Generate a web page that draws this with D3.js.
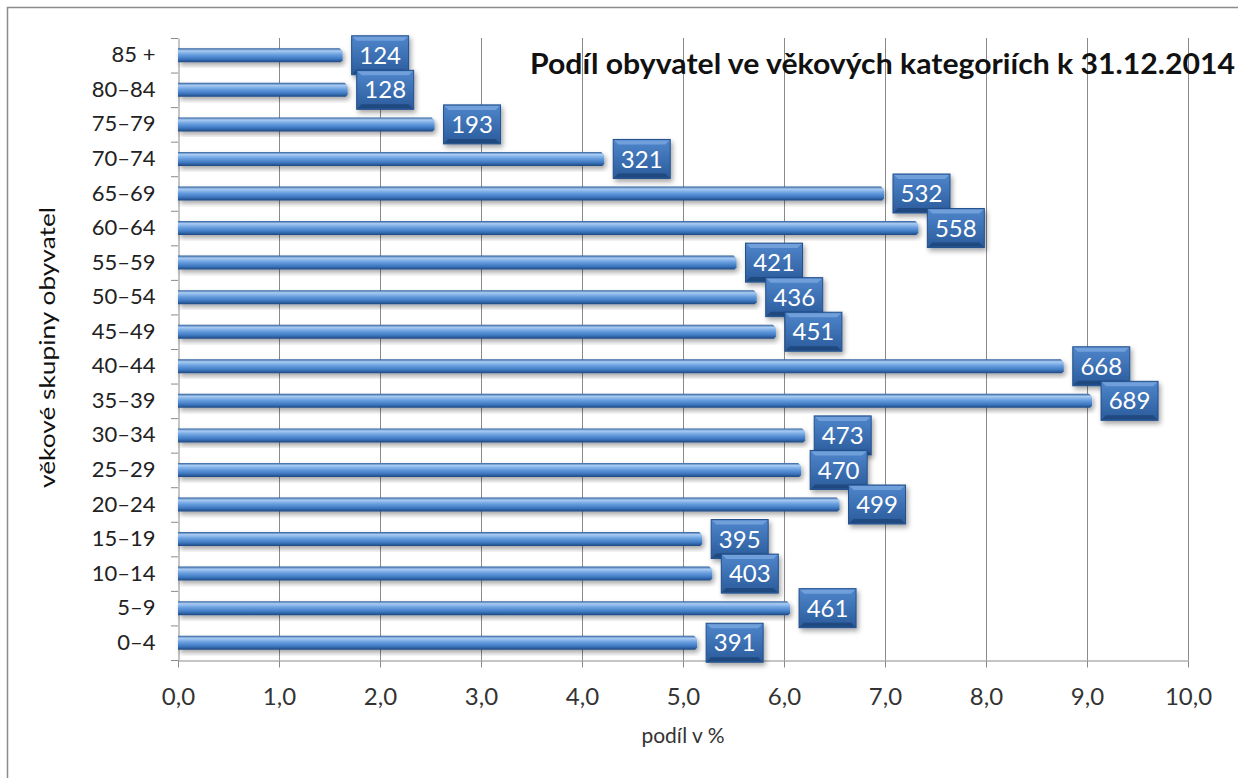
<!DOCTYPE html>
<html>
<head>
<meta charset="utf-8">
<script src="https://cdn.jsdelivr.net/npm/d3@7"></script>
<style>
  body { margin: 0; background: #fff; }
  text { font-family: Lato, "Open Sans", sans-serif; }
</style>
</head>
<body>
<div id="chart"></div>
<script>
// age groups, top to bottom as in the picture
var categories = ["85 +", "80–84", "75–79", "70–74", "65–69", "60–64", "55–59", "50–54",
    "45–49", "40–44", "35–39", "30–34", "25–29", "20–24", "15–19", "10–14", "5–9", "0–4"];
// number of inhabitants (box labels)
var counts = [124, 128, 193, 321, 532, 558, 421, 436, 451, 668, 689, 473, 470, 499, 395, 403, 461, 391];
// share in % (bar length)
var shares = [1.63, 1.68, 2.54, 4.22, 6.99, 7.33, 5.53, 5.73, 5.92, 8.77, 9.05, 6.21, 6.17, 6.55, 5.19, 5.29, 6.06, 5.14];
var xTicks = [0, 1, 2, 3, 4, 5, 6, 7, 8, 9, 10];

var W = 1238, H = 778;
var margin = { top: 38, left: 178, right: 50, bottom: 118 };

var czech = d3.formatLocale({ decimal: ",", thousands: " ", grouping: [3], currency: ["", " Kč"] });
var fmt = czech.format(".1f");

var svg = d3.select("#chart").append("svg")
    .attr("width", W)
    .attr("height", H);

var defs = svg.append("defs");
var bg = defs.append("linearGradient").attr("id", "barGrad")
    .attr("x1", 0).attr("y1", 0).attr("x2", 0).attr("y2", 1);
bg.append("stop").attr("offset", "0%").attr("stop-color", "#2d5e9c");
bg.append("stop").attr("offset", "18%").attr("stop-color", "#a9cbf2");
bg.append("stop").attr("offset", "45%").attr("stop-color", "#6aa0e0");
bg.append("stop").attr("offset", "75%").attr("stop-color", "#3f79c2");
bg.append("stop").attr("offset", "100%").attr("stop-color", "#1d4880");

var lg = defs.append("linearGradient").attr("id", "boxGrad")
    .attr("x1", 0).attr("y1", 0).attr("x2", 0).attr("y2", 1);
lg.append("stop").attr("offset", "0%").attr("stop-color", "#4f86cc");
lg.append("stop").attr("offset", "100%").attr("stop-color", "#2a5b9b");

var sh = defs.append("filter").attr("id", "shadow")
    .attr("x", "-20%").attr("y", "-20%").attr("width", "150%").attr("height", "160%");
sh.append("feDropShadow").attr("dx", 2).attr("dy", 3).attr("stdDeviation", 2.5)
    .attr("flood-color", "#000").attr("flood-opacity", 0.35);

// outer chart border
svg.append("rect")
    .attr("x", 7.5).attr("y", 7.5)
    .attr("width", W + 20).attr("height", H + 20)
    .attr("fill", "none").attr("stroke", "#8c8c8c").attr("stroke-width", 1.5);

var x = d3.scaleLinear().domain([0, 10]).range([margin.left, W - margin.right]);
var y = d3.scaleBand().domain(categories).range([margin.top, H - margin.bottom]);

// vertical gridlines
svg.append("g").selectAll("line")
    .data(xTicks.slice(1))
    .enter().append("line")
    .attr("x1", function (d) { return x(d) + 0.5; })
    .attr("x2", function (d) { return x(d) + 0.5; })
    .attr("y1", y.range()[0])
    .attr("y2", y.range()[1])
    .attr("stroke", "#8a8a8a");

// x axis
var xAxis = svg.append("g")
    .attr("transform", "translate(0," + (y.range()[1] + 0.5) + ")")
    .call(d3.axisBottom(x).tickValues(xTicks).tickFormat(fmt).tickSizeInner(7).tickSizeOuter(0).tickPadding(20));
xAxis.select(".domain").attr("stroke", "#8a8a8a");
xAxis.selectAll(".tick line").attr("stroke", "#8a8a8a");
xAxis.selectAll("text").attr("font-size", 24).attr("fill", "#333")
    .style("font-family", "Lato, sans-serif");

// y axis
var yAxis = svg.append("g")
    .attr("transform", "translate(" + (margin.left + 0.5) + ",0)")
    .call(d3.axisLeft(y).tickSize(0).tickPadding(23));
yAxis.select(".domain").attr("stroke", "#8a8a8a");
yAxis.selectAll("text").attr("font-size", 22).attr("fill", "#222")
    .style("font-family", "Lato, sans-serif");

// y tick marks on band boundaries
svg.append("g").selectAll("line")
    .data(d3.range(categories.length + 1))
    .enter().append("line")
    .attr("x1", margin.left - 7)
    .attr("x2", margin.left)
    .attr("y1", function (i) { return y.range()[0] + i * y.step() + 0.5; })
    .attr("y2", function (i) { return y.range()[0] + i * y.step() + 0.5; })
    .attr("stroke", "#8a8a8a");

var barH = 14;
var bars = svg.append("g").selectAll("g")
    .data(categories)
    .enter().append("g")
    .attr("transform", function (d) {
        return "translate(0," + (y(d) + (y.bandwidth() - barH) / 2) + ")";
    });

bars.append("path")
    .attr("filter", "url(#shadow)")
    .attr("fill", "url(#barGrad)")
    .attr("d", function (d, i) {
        var x0 = x(0), x1 = x(shares[i]);
        return "M" + x0 + ",0H" + (x1 - 3) + "L" + x1 + ",3V" + (barH - 2) +
            "L" + (x1 - 2) + "," + barH + "H" + x0 + "Z";
    });

// value boxes
var boxW = 57, boxH = 39;
var labels = svg.append("g").selectAll("g")
    .data(categories)
    .enter().append("g")
    .attr("transform", function (d, i) {
        return "translate(" + (x(shares[i]) + 9) + "," + (y(d) + y.bandwidth() / 2 - boxH / 2) + ")";
    });

labels.append("rect")
    .attr("width", boxW).attr("height", boxH)
    .attr("fill", "url(#boxGrad)")
    .attr("stroke", "#234f8a").attr("stroke-width", 1)
    .attr("filter", "url(#shadow)");
// bevel highlights
labels.append("path")
    .attr("d", "M1,1H" + (boxW - 1) + "L" + (boxW - 5) + ",5H5Z")
    .attr("fill", "#7aa6de").attr("opacity", 0.8);
labels.append("path")
    .attr("d", "M1," + (boxH - 1) + "H" + (boxW - 1) + "L" + (boxW - 5) + "," + (boxH - 5) + "H5Z")
    .attr("fill", "#1c4377").attr("opacity", 0.8);
labels.append("text")
    .attr("x", boxW / 2).attr("y", boxH / 2)
    .attr("dy", "0.36em")
    .attr("text-anchor", "middle")
    .attr("font-size", 24)
    .attr("fill", "#fff")
    .text(function (d, i) { return counts[i]; });

// title
svg.append("text")
    .attr("x", 530).attr("y", 74)
    .attr("font-size", 28)
    .attr("font-weight", "bold")
    .attr("fill", "#111")
    .attr("textLength", 705)
    .attr("lengthAdjust", "spacingAndGlyphs")
    .text("Podíl obyvatel ve věkových kategoriích k 31.12.2014");

// axis titles
svg.append("text")
    .attr("x", 683).attr("y", 743)
    .attr("text-anchor", "middle")
    .attr("font-size", 21)
    .attr("fill", "#333")
    .text("podíl v %");

svg.append("text")
    .attr("transform", "translate(55,488) rotate(-90)")
    .attr("font-size", 21)
    .attr("fill", "#111")
    .attr("textLength", 281)
    .attr("lengthAdjust", "spacingAndGlyphs")
    .text("věkové skupiny obyvatel");
</script>
</body>
</html>
